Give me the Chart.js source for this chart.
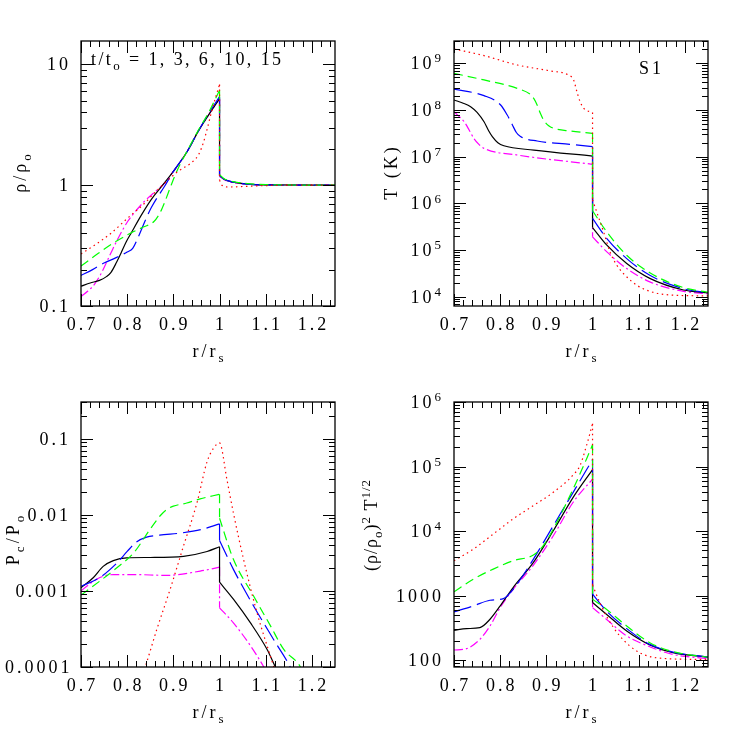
<!DOCTYPE html>
<html>
<head>
    <title>Shock profiles S1</title>
    <style>
        body {
            margin: 0;
            background-color: #ffffff;
        }
        #fig {
            position: relative;
            width: 747px;
            height: 747px;
        }
        canvas {
            position: absolute;
        }
    </style>
</head>
<body>
    <div id="fig">
        <canvas id="rhoPanel" width="374" height="374" style="left:0;top:0"></canvas>
        <canvas id="tempPanel" width="394" height="374" style="left:353px;top:0"></canvas>
        <canvas id="pcPanel" width="374" height="374" style="left:0;top:373px"></canvas>
        <canvas id="emPanel" width="394" height="374" style="left:353px;top:373px"></canvas>
    </div>

    <script src="https://cdn.jsdelivr.net/npm/chart.js"></script>
    <script>
        // times shown in the header, one per curve (red, green, blue, black, magenta)
        const times = [1, 3, 6, 10, 15];

        const xTicks = [0.7, 0.8, 0.9, 1.0, 1.1, 1.2];
        const xTickLabels = ['0.7', '0.8', '0.9', '1', '1.1', '1.2'];

        // density rho/rho_o  (two points at x = 1 mark the shock jump)
        const rhoRed = [[0.7,0.27],[0.73,0.32],[0.765,0.4],[0.8,0.53],[0.838,0.71],[0.86,0.87],[0.881,1.04],[0.91,1.3],[0.943,1.58],[0.955,1.8],[0.965,2.25],[0.973,2.9],[0.983,4.1],[0.992,5.4],[1.0,6.8],[1.0,1.1],[1.005,1.0],[1.02,0.965],[1.05,0.975],[1.1,0.992],[1.15,1.0],[1.25,1.0]];
        const rhoGreen = [[0.7,0.214],[0.73,0.26],[0.765,0.323],[0.809,0.404],[0.835,0.45],[0.858,0.5],[0.87,0.58],[0.881,0.72],[0.893,0.95],[0.903,1.19],[0.915,1.5],[0.93,1.92],[0.954,2.85],[0.975,3.9],[1.0,6.1],[1.0,1.22],[1.01,1.13],[1.03,1.07],[1.06,1.03],[1.1,1.01],[1.25,1.0]];
        const rhoBlue = [[0.7,0.179],[0.725,0.2],[0.751,0.228],[0.775,0.25],[0.8,0.28],[0.812,0.3],[0.825,0.38],[0.84,0.52],[0.852,0.65],[0.865,0.79],[0.881,0.98],[0.9,1.3],[0.93,1.9],[0.954,2.8],[0.975,3.85],[1.0,5.4],[1.0,1.2],[1.01,1.12],[1.03,1.06],[1.06,1.02],[1.1,1.005],[1.25,1.0]];
        const rhoBlack = [[0.7,0.146],[0.72,0.155],[0.74,0.163],[0.755,0.175],[0.765,0.19],[0.777,0.23],[0.787,0.276],[0.798,0.34],[0.809,0.404],[0.83,0.56],[0.852,0.76],[0.875,0.98],[0.9,1.3],[0.93,1.9],[0.954,2.8],[0.975,3.75],[1.0,5.2],[1.0,1.2],[1.01,1.12],[1.03,1.06],[1.06,1.02],[1.1,1.005],[1.25,1.0]];
        const rhoMagenta = [[0.7,0.12],[0.715,0.133],[0.729,0.151],[0.745,0.19],[0.765,0.276],[0.783,0.38],[0.801,0.5],[0.82,0.62],[0.838,0.74],[0.86,0.88],[0.881,1.04],[0.9,1.3],[0.93,1.9],[0.954,2.8],[0.975,3.75],[1.0,5.2],[1.0,1.18],[1.01,1.11],[1.03,1.05],[1.06,1.02],[1.1,1.005],[1.25,1.0]];
        const rhoTicks = [0.1, 1, 10];
        const rhoTickLabels = ['0.1', '1', '10'];

        // temperature T (K)
        const tempRed = [[0.7,2.03e9],[0.765,1.46e9],[0.837,9.2e8],[0.909,6.85e8],[0.948,5.6e8],[0.959,4.4e8],[0.966,2.5e8],[0.972,1.6e8],[0.981,1.09e8],[1.0,8.9e7],[1.0,1.2e6],[1.009,6.6e5],[1.024,2.45e5],[1.038,9.1e4],[1.0525,4.8e4],[1.067,3.16e4],[1.096,1.78e4],[1.124,1.32e4],[1.16,1.12e4],[1.25,1.05e4]];
        const tempGreen = [[0.7,6.1e8],[0.765,4.4e8],[0.837,2.9e8],[0.865,2.17e8],[0.873,1.75e8],[0.88,1.28e8],[0.887,8.5e7],[0.894,6.1e7],[0.905,4.6e7],[0.916,4.05e7],[0.952,3.55e7],[1.0,3.16e7],[1.0,7e5],[1.031,2.45e5],[1.074,7.8e4],[1.124,3.3e4],[1.197,1.58e4],[1.25,1.26e4]];
        const tempBlue = [[0.7,2.8e8],[0.765,2.03e8],[0.801,1.28e8],[0.815,7.9e7],[0.826,4.9e7],[0.835,3.3e7],[0.844,2.7e7],[0.88,2.17e7],[0.952,1.84e7],[1.0,1.64e7],[1.0,4.8e5],[1.031,1.78e5],[1.074,6.6e4],[1.124,2.9e4],[1.197,1.5e4],[1.25,1.23e4]];
        const tempBlack = [[0.7,1.64e8],[0.72,1.4e8],[0.736,1.18e8],[0.75,8.9e7],[0.765,5.6e7],[0.775,3.6e7],[0.783,2.7e7],[0.795,2.0e7],[0.808,1.72e7],[0.873,1.39e7],[1.0,1.03e7],[1.0,3.06e5],[1.031,1.28e5],[1.074,5.2e4],[1.124,2.5e4],[1.197,1.41e4],[1.25,1.23e4]];
        const tempMagenta = [[0.7,9.2e7],[0.722,5.6e7],[0.733,3.7e7],[0.743,2.47e7],[0.755,1.8e7],[0.765,1.51e7],[0.837,1.09e7],[1.0,6.9e6],[1.0,1.93e5],[1.031,9.2e4],[1.074,4.05e4],[1.124,2.1e4],[1.197,1.32e4],[1.25,1.17e4]];
        const tempTicks = [1e4, 1e5, 1e6, 1e7, 1e8, 1e9];
        const tempTickLabels = ['10^4', '10^5', '10^6', '10^7', '10^8', '10^9'];

        // cosmic ray pressure Pc/Po
        const pcRed = [[0.83,7e-5],[0.839,1e-4],[0.864,3.1e-4],[0.893,1.05e-3],[0.922,3.9e-3],[0.951,0.0143],[0.973,0.05],[0.987,0.075],[1.0,0.088],[1.016,0.029],[1.03,0.0106],[1.052,2.6e-3],[1.081,5.2e-4],[1.117,1.02e-4],[1.125,7e-5]];
        const pcGreen = [[0.7,8.8e-4],[0.741,1.35e-3],[0.777,2e-3],[0.814,3.16e-3],[0.85,6.5e-3],[0.872,0.0098],[0.886,0.0118],[0.9,0.013],[0.929,0.0143],[0.958,0.0162],[1.0,0.0186],[1.0,9e-3],[1.03,2.6e-3],[1.074,8.5e-4],[1.11,3.5e-4],[1.139,1.7e-4],[1.175,1e-4],[1.185,7e-5]];
        const pcBlue = [[0.7,1.15e-3],[0.741,1.5e-3],[0.777,2.3e-3],[0.8,3.3e-3],[0.82,4.4e-3],[0.842,5.1e-3],[0.87,5.4e-3],[0.92,5.8e-3],[0.96,6.4e-3],[1.0,7.6e-3],[1.0,4.6e-3],[1.03,1.92e-3],[1.074,6.3e-4],[1.117,2.3e-4],[1.153,1e-4],[1.16,8e-5]];
        const pcBlack = [[0.7,1.1e-3],[0.727,1.5e-3],[0.748,2.1e-3],[0.77,2.5e-3],[0.799,2.72e-3],[0.85,2.75e-3],[0.922,2.85e-3],[0.973,3.3e-3],[1.0,3.8e-3],[1.0,1.3e-3],[1.03,7.8e-4],[1.067,3.8e-4],[1.103,1.7e-4],[1.121,1e-4],[1.13,8e-5]];
        const pcMagenta = [[0.7,1.0e-3],[0.72,1.25e-3],[0.741,1.5e-3],[0.77,1.64e-3],[0.814,1.64e-3],[0.886,1.6e-3],[0.958,1.82e-3],[1.0,2.05e-3],[1.0,6e-4],[1.03,3.8e-4],[1.067,1.9e-4],[1.096,1e-4],[1.105,8e-5]];
        const pcTicks = [1e-4, 1e-3, 0.01, 0.1];
        const pcTickLabels = ['0.0001', '0.001', '0.01', '0.1'];

        // emission measure (rho/rho_o)^2 T^1/2
        const emRed = [[0.7,3460],[0.742,5250],[0.785,8970],[0.828,1.54e4],[0.872,2.48e4],[0.915,3.98e4],[0.958,7.4e4],[0.973,1.04e5],[0.987,2.12e5],[1.0,4.6e5],[1.0,1450],[1.015,800],[1.03,483],[1.059,236],[1.102,130],[1.153,106],[1.25,102]];
        const emGreen = [[0.7,1140],[0.742,1795],[0.785,2570],[0.828,3460],[0.872,4240],[0.893,5900],[0.915,1.07e4],[0.958,4.5e4],[0.987,1.31e5],[1.0,2.17e5],[1.0,880],[1.03,614],[1.074,337],[1.124,186],[1.174,135],[1.25,111]];
        const emBlue = [[0.7,557],[0.742,690],[0.778,845],[0.807,897],[0.828,1250],[0.872,3670],[0.915,1.21e4],[0.958,3.98e4],[1.0,1.28e5],[1.0,1050],[1.03,578],[1.074,307],[1.124,175],[1.174,133],[1.25,111]];
        const emBlack = [[0.7,289],[0.727,307],[0.756,318],[0.778,429],[0.8,690],[0.828,1330],[0.872,3260],[0.915,1.01e4],[0.958,3.33e4],[1.0,8.97e4],[1.0,778],[1.03,513],[1.074,282],[1.124,172],[1.174,130],[1.25,111]];
        const emMagenta = [[0.7,143],[0.727,150],[0.756,209],[0.778,337],[0.8,650],[0.828,1250],[0.872,2960],[0.915,8450],[0.958,2.79e4],[1.0,6.4e4],[1.0,650],[1.03,429],[1.074,236],[1.124,161],[1.174,122],[1.25,105]];
        const emTicks = [100, 1000, 1e4, 1e5, 1e6];
        const emTickLabels = ['100', '1000', '10^4', '10^5', '10^6'];

        const FONT = '"Liberation Serif", "DejaVu Serif", serif';
        const SIZE = 18;

        // line styles: red dotted, green short dash, blue long dash, black solid, magenta dash-dot
        const styles = [
            { color: '#ff0000', dash: [1.5, 3.5] },
            { color: '#00ff00', dash: [9, 5] },
            { color: '#0000ff', dash: [18, 6] },
            { color: '#000000', dash: [] },
            { color: '#ff00ff', dash: [9, 3, 2, 3] }
        ];

        // "a_b" -> subscript, "a^b" / "a^{bc}" -> superscript
        function parseRich(s) {
            const out = [];
            let i = 0, cur = '';
            while (i < s.length) {
                const c = s[i];
                if (c === '^' || c === '_') {
                    if (cur) { out.push([cur, 0]); cur = ''; }
                    let t;
                    if (s[i + 1] === '{') {
                        const j = s.indexOf('}', i);
                        t = s.slice(i + 2, j);
                        i = j + 1;
                    } else {
                        t = s[i + 1];
                        i += 2;
                    }
                    out.push([t, c === '^' ? 1 : -1]);
                } else {
                    cur += c;
                    i++;
                }
            }
            if (cur) out.push([cur, 0]);
            return out;
        }

        function drawRich(ctx, s, x, y, align, minLeft) {
            const parts = parseRich(s).map(([t, k]) => {
                const fs = k ? Math.round(SIZE * 0.74) : SIZE;
                ctx.font = fs + 'px ' + FONT;
                return { t: t, k: k, fs: fs, w: ctx.measureText(t).width };
            });
            const w = parts.reduce((a, p) => a + p.w, 0);
            let cx = align === 'center' ? x - w / 2 : align === 'right' ? x - w : x;
            if (minLeft !== undefined && cx < minLeft) cx = minLeft;
            parts.forEach(p => {
                ctx.font = p.fs + 'px ' + FONT;
                const dy = p.k > 0 ? -SIZE * 0.38 : p.k < 0 ? SIZE * 0.28 : 0;
                ctx.fillText(p.t, cx, y + dy);
                cx += p.w;
            });
        }

        function decor(cfg) {
            return {
                id: 'decor',
                afterDraw(chart) {
                    const ctx = chart.ctx;
                    const a = chart.chartArea;
                    const xs = chart.scales.x, ys = chart.scales.y;
                    ctx.save();
                    ctx.strokeStyle = '#000';
                    ctx.fillStyle = '#000';

                    // inward ticks on all four sides
                    ctx.lineWidth = 1;
                    ctx.beginPath();
                    for (let i = 0; i <= 27; i++) {
                        const px = Math.round(xs.getPixelForValue(0.7 + i * 0.02)) + 0.5;
                        const len = i % 5 === 0 ? 12 : 6;
                        ctx.moveTo(px, a.bottom); ctx.lineTo(px, a.bottom - len);
                        ctx.moveTo(px, a.top); ctx.lineTo(px, a.top + len);
                    }
                    const lo = Math.floor(Math.log10(ys.min)), hi = Math.ceil(Math.log10(ys.max));
                    for (let d = lo; d <= hi; d++) {
                        for (let m = 1; m <= 9; m++) {
                            const v = m * Math.pow(10, d);
                            if (v < ys.min * 0.999 || v > ys.max * 1.001) continue;
                            const py = Math.round(ys.getPixelForValue(v)) + 0.5;
                            const len = m === 1 ? 12 : 6;
                            ctx.moveTo(a.left, py); ctx.lineTo(a.left + len, py);
                            ctx.moveTo(a.right, py); ctx.lineTo(a.right - len, py);
                        }
                    }
                    ctx.stroke();

                    ctx.lineWidth = 1.3;
                    ctx.strokeRect(a.left, a.top, a.right - a.left, a.bottom - a.top);

                    ctx.textBaseline = 'alphabetic';
                    ctx.letterSpacing = '3px';

                    xTicks.forEach((v, i) => {
                        drawRich(ctx, xTickLabels[i], xs.getPixelForValue(v) + 1.5, a.bottom + 24, 'center');
                    });
                    cfg.yTicks.forEach((v, i) => {
                        drawRich(ctx, cfg.yLabels[i], a.left - 10, ys.getPixelForValue(v) + 6, 'right', 5);
                    });

                    drawRich(ctx, 'r/r_s', (a.left + a.right) / 2 + 1.5, a.bottom + 51, 'center');

                    ctx.save();
                    ctx.letterSpacing = cfg.titleSpacing || '3px';
                    ctx.translate(cfg.titleX, cfg.titleY);
                    ctx.rotate(-Math.PI / 2);
                    drawRich(ctx, cfg.title, 0, 0, 'center');
                    ctx.restore();

                    if (cfg.note) {
                        ctx.letterSpacing = cfg.note.spacing;
                        drawRich(ctx, cfg.note.text, cfg.note.x, cfg.note.y, cfg.note.align);
                    }
                    ctx.restore();
                }
            };
        }

        // a shock is stored as two points with the same x: draw the smooth parts
        // on each side and the vertical jump as separate pieces of one curve
        function pieces(pts) {
            const xy = p => ({ x: p[0], y: p[1] });
            for (let i = 0; i < pts.length - 1; i++) {
                if (pts[i][0] === pts[i + 1][0]) {
                    return [
                        { data: pts.slice(0, i + 1).map(xy), smooth: true },
                        { data: [xy(pts[i]), xy(pts[i + 1])], smooth: false },
                        { data: pts.slice(i + 1).map(xy), smooth: true }
                    ];
                }
            }
            return [{ data: pts.map(xy), smooth: true }];
        }

        function makePanel(id, series, yMin, yMax, top, leftPad, cfg) {
            const datasets = [];
            series.forEach((pts, i) => {
                pieces(pts).forEach(piece => {
                    datasets.push({
                        label: 't/to = ' + times[i],
                        data: piece.data,
                        borderColor: styles[i].color,
                        borderDash: styles[i].dash,
                        borderWidth: 1.2,
                        pointRadius: 0,
                        fill: false,
                        tension: 0,
                        cubicInterpolationMode: piece.smooth ? 'monotone' : 'default'
                    });
                });
            });
            new Chart(document.getElementById(id), {
                type: 'line',
                data: { datasets: datasets },
                options: {
                    responsive: false,
                    animation: false,
                    layout: { padding: { left: leftPad, right: 39, top: top, bottom: 0 } },
                    plugins: {
                        legend: { display: false },
                        tooltip: { enabled: false }
                    },
                    scales: {
                        x: {
                            type: 'linear', min: 0.7, max: 1.25,
                            ticks: { display: false },
                            grid: { display: false },
                            border: { display: false },
                            afterFit: s => { s.height = 374 - top - 265; }
                        },
                        y: {
                            type: 'logarithmic', min: yMin, max: yMax,
                            ticks: { display: false },
                            grid: { display: false },
                            border: { display: false },
                            afterFit: s => { s.width = 81; }
                        }
                    }
                },
                plugins: [decor(cfg)]
            });
        }

        makePanel('rhoPanel', [rhoRed, rhoGreen, rhoBlue, rhoBlack, rhoMagenta], 0.1, 15.6, 41, 0, {
            yTicks: rhoTicks, yLabels: rhoTickLabels,
            title: 'ρ/ρ_o', titleX: 26, titleY: 172,
            note: { text: 't/t_o = ' + times.join(', '), x: 91, y: 65, align: 'left', spacing: '2.4px' }
        });
        makePanel('tempPanel', [tempRed, tempGreen, tempBlue, tempBlack, tempMagenta], 6400, 3.0e9, 41, 20, {
            yTicks: tempTicks, yLabels: tempTickLabels,
            title: 'T (K)', titleX: 44, titleY: 172,
            note: { text: 'S1', x: 311, y: 74, align: 'right', spacing: '3px' }
        });
        makePanel('pcPanel', [pcRed, pcGreen, pcBlue, pcBlack, pcMagenta], 1e-4, 0.304, 29, 0, {
            yTicks: pcTicks, yLabels: pcTickLabels,
            title: 'P_c/P_o', titleX: 19, titleY: 166
        });
        makePanel('emPanel', [emRed, emGreen, emBlue, emBlack, emMagenta], 78, 1e6, 29, 20, {
            yTicks: emTicks, yLabels: emTickLabels,
            title: '(ρ/ρ_o)^2 T^{1/2}', titleX: 24, titleY: 152, titleSpacing: '1px'
        });
    </script>
</body>
</html>
